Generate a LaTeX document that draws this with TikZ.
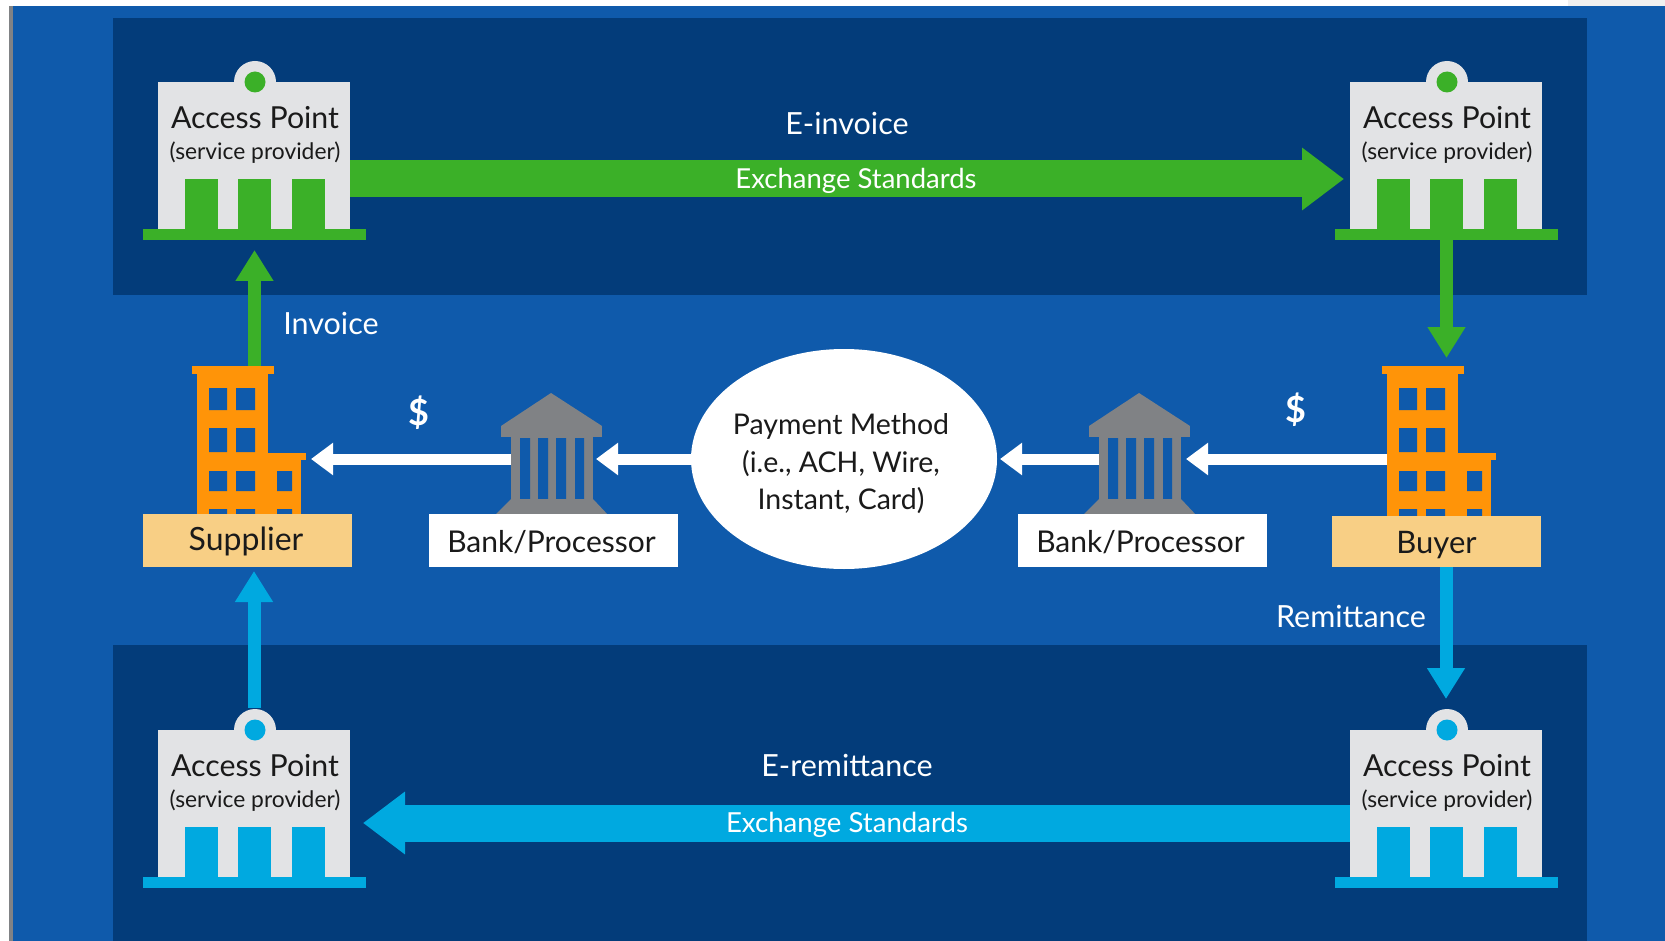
\documentclass[tikz,border=0pt]{standalone}
\usepackage{fontspec}
\setmainfont{Lato}
\usetikzlibrary{arrows.meta,shapes.geometric}
\definecolor{bgblue}{HTML}{0F5AAB}
\definecolor{panelblue}{HTML}{033C7A}
\definecolor{agreen}{HTML}{3BB028}
\definecolor{acyan}{HTML}{00A9E0}
\definecolor{aorange}{HTML}{FF9408}
\definecolor{alabel}{HTML}{F8CF85}
\definecolor{agray}{HTML}{808285}
\definecolor{apbody}{HTML}{E2E3E5}
\definecolor{inkdark}{HTML}{1A1A1A}
\tikzset{
  blockbox/.style={draw=none,inner sep=0pt,outer sep=0pt,rectangle},
  titletext/.style={inner sep=0pt,text=inkdark,font=\fontsize{30.3}{34}\selectfont},
  subtext/.style={inner sep=0pt,text=inkdark,font=\fontsize{22.8}{27}\selectfont},
  whitelabel/.style={inner sep=0pt,text=white,font=\fontsize{29}{33}\selectfont},
  stdlabel/.style={inner sep=0pt,text=white,font=\fontsize{30.5}{34}\selectfont},
  darklabel/.style={inner sep=0pt,text=inkdark,font=\fontsize{31}{36}\selectfont},
  bigarrow/.style={line width=37pt,-{Triangle[width=60pt,length=42pt]}},
  vertarrow/.style={line width=13pt,-{Triangle[width=36pt,length=31pt]}},
  whitearrow/.style={draw=white,line width=11pt,-{Triangle[width=31pt,length=22pt]}},
}
% name, shift x, shift y, colour
\newcommand{\accesspoint}[4]{%
  \begin{scope}[shift={(#2,#3)}]
    \fill[apbody] (255,82) circle (21pt);
    \node[blockbox,fill=apbody,minimum width=192pt,minimum height=147pt] (#1) at (254,155.5) {};
    \fill[#4] (255,82) circle (10.5pt);
    \node[blockbox,fill=#4,minimum width=223pt,minimum height=11pt] (#1base) at (254.5,234.5) {};
    \node[blockbox,fill=#4,minimum width=33pt,minimum height=50pt] (#1doorA) at (201,204) {};
    \node[blockbox,fill=#4,minimum width=33pt,minimum height=50pt] (#1doorB) at (254.5,204) {};
    \node[blockbox,fill=#4,minimum width=33pt,minimum height=50pt] (#1doorC) at (308,204) {};
    \node[titletext] (#1title) at (255,118) {Access Point};
    \node[subtext] (#1sub) at (255,153) {(service provider)};
  \end{scope}}
% name, shift x
\newcommand{\officeblock}[2]{%
  \begin{scope}[shift={(#2,0)}]
    \node[blockbox,fill=aorange,minimum width=71pt,minimum height=145pt] (#1main) at (232.5,443) {};
    \node[blockbox,fill=aorange,minimum width=82pt,minimum height=8pt] (#1cap) at (232.5,370) {};
    \node[blockbox,fill=aorange,minimum width=34pt,minimum height=56pt] (#1wing) at (284,488) {};
    \node[blockbox,fill=aorange,minimum width=41pt,minimum height=7pt] (#1wingcap) at (285,456.5) {};
    \fill[bgblue] (209,388) rectangle (227,410) (236,388) rectangle (255,410)
                  (209,428) rectangle (227,452) (236,428) rectangle (255,452)
                  (209,471) rectangle (227,491) (236,471) rectangle (255,491) (277,471) rectangle (292,491)
                  (209,509) rectangle (227,516) (236,509) rectangle (255,516) (277,509) rectangle (292,516);
  \end{scope}}
% name, shift x
\newcommand{\bankblock}[2]{%
  \begin{scope}[shift={(#2,0)}]
    \fill[agray] (551,393) -- (602,426) -- (501,426) -- cycle;
    \node[blockbox,fill=agray,minimum width=101pt,minimum height=11pt] (#1top) at (551.5,431.5) {};
    \node[blockbox,fill=agray,minimum width=82pt,minimum height=63pt] (#1col) at (552,468) {};
    \fill[bgblue] (520,438) rectangle (530,499) (538,438) rectangle (548,499)
                  (556,438) rectangle (566,499) (575,438) rectangle (584,499);
    \fill[agray] (511,499) -- (593,499) -- (609,516) -- (494,516) -- cycle;
  \end{scope}}
\begin{document}
\begin{tikzpicture}[x=1pt,y=-1pt]
\useasboundingbox (0,0) rectangle (1665,941);
\fill[white] (0,0) rectangle (1665,941);
\fill[black!6] (1568,0) rectangle (1665,6);
\fill[agray] (9,6) rectangle (13,941);
\fill[bgblue] (13,6) rectangle (1665,941);
\fill[panelblue] (113,18) rectangle (1587,295);
\fill[panelblue] (113,645) rectangle (1587,941);

\accesspoint{apTL}{0}{0}{agreen}
\accesspoint{apTR}{1192}{0}{agreen}
\accesspoint{apBL}{0}{648}{acyan}
\accesspoint{apBR}{1192}{648}{acyan}
\officeblock{sup}{0}
\officeblock{buy}{1190}
\bankblock{bankL}{0}
\bankblock{bankR}{588}

\node[blockbox,fill=alabel,minimum width=209pt,minimum height=53pt] (supplier) at (247.5,540.5) {};
\node[blockbox,fill=alabel,minimum width=209pt,minimum height=51pt] (buyer) at (1436.5,541.5) {};
\node[blockbox,fill=white,minimum width=249pt,minimum height=53pt] (procL) at (553.5,540.5) {};
\node[blockbox,fill=white,minimum width=249pt,minimum height=53pt] (procR) at (1142,540.5) {};
\node[darklabel,font=\fontsize{32}{36}\selectfont] (suppliertext) at (246,541) {Supplier};
\node[darklabel] (buyertext) at (1436.5,545) {Buyer};
\node[darklabel,font=\fontsize{30}{36}\selectfont] (procLtext) at (551.5,542.5) {Bank/Processor};
\node[darklabel,font=\fontsize{30}{36}\selectfont] (procRtext) at (1140.5,542.5) {Bank/Processor};
\node[ellipse,fill=white,inner sep=0pt,outer sep=0pt,minimum width=306pt,minimum height=220pt] (pay) at (844,459) {};
\node[darklabel,align=center,font=\fontsize{28.5}{37.5}\selectfont] (paytext) at (841,464) {Payment Method\\(i.e., ACH, Wire,\\Instant, Card)};

% green flow
\draw[agreen,bigarrow,shorten >=6pt] ([yshift=-23.5pt]apTL.east) -- ([yshift=-23.5pt]apTR.west);
\draw[agreen,vertarrow,shorten >=10pt] (supcap.north -| apTLbase.south) -- (apTLbase.south);
\draw[agreen,vertarrow,shorten >=8pt] (apTRbase.south) -- (buycap.north -| apTRbase.south);
% cyan flow
\draw[acyan,bigarrow,shorten >=13pt] ([yshift=-19.5pt]apBR.west) -- ([yshift=-19.5pt]apBL.east);
\draw[acyan,vertarrow,shorten >=4pt] ([yshift=22pt]apBL.north) -- (supplier.south -| apBL.north);
\draw[acyan,vertarrow] (buyer.south -| apBR.north) -- ([yshift=31pt]apBR.north);
% white flow
\draw[whitearrow,shorten >=10pt] ([yshift=9pt]bankLcol.west) -- ([yshift=29pt]supwing.east);
\draw[whitearrow,shorten >=3pt] (pay.west) -- ([yshift=9pt]bankLcol.east);
\draw[whitearrow,shorten >=5pt] (buymain.west |- pay.west) -- ([yshift=9pt]bankRcol.east);
\draw[whitearrow,shorten >=3pt] ([yshift=9pt]bankRcol.west) -- (pay.east);

\node[stdlabel] (einv) at (847,123) {E-invoice};
\node[whitelabel,font=\fontsize{27.5}{32}\selectfont] (exTop) at (856,181) {Exchange Standards};
\node[stdlabel] (inv) at (331,323) {Invoice};
\node[stdlabel] (rem) at (1351,616) {Remittance};
\node[stdlabel] (erem) at (847,765) {E-remittance};
\node[whitelabel,font=\fontsize{27.6}{32}\selectfont] (exBot) at (847,825) {Exchange Standards};
\node[whitelabel,font=\bfseries\fontsize{36}{40}\selectfont] (dolL) at (419,413) {\$};
\node[whitelabel,font=\bfseries\fontsize{36}{40}\selectfont] (dolR) at (1296,410) {\$};
\end{tikzpicture}
\end{document}
